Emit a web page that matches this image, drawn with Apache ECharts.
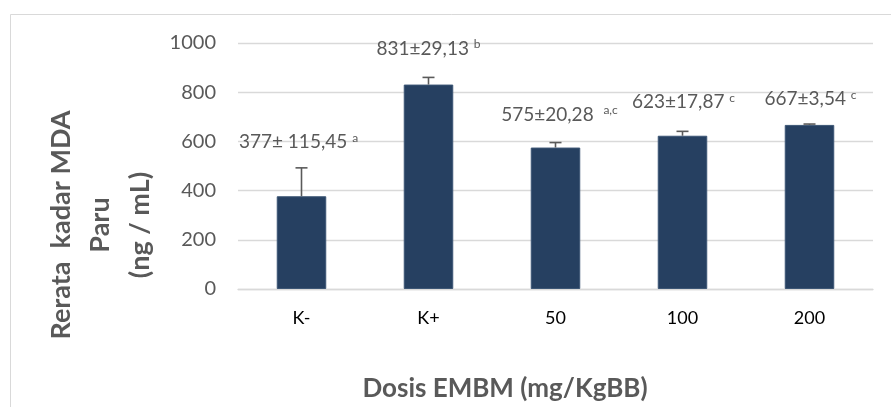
<!DOCTYPE html>
<html>
<head>
<meta charset="utf-8">
<script src="https://cdn.jsdelivr.net/npm/echarts@6/dist/echarts.min.js"></script>
<style>
  html, body { margin: 0; padding: 0; background: #fff; }
  #chart { width: 891px; height: 407px; }
</style>
</head>
<body>
<div id="chart"></div>
<script>
// data
var categories = ['K-', 'K+', '50', '100', '200'];
var meanValues = [377, 831, 575, 623, 667];
var sdValues = [115.45, 29.13, 20.28, 17.87, 3.54];
var sdLabels = [' 115,45', '29,13', '20,28', '17,87', '3,54'];
var letters = ['a', 'b', 'a,c', 'c', 'c'];
var letterGap = [' ', ' ', '  ', ' ', ' '];

// label nudges (style only)
var labelOffset = [[-3, -44], [0, -26], [4, -23], [1, -24], [1, -16]];

var font = 'Lato, "Liberation Sans", sans-serif';
var grey = '#595959';

var barData = meanValues.map(function (v, i) {
    return {
        value: v,
        label: {
            offset: labelOffset[i],
            formatter: '{v|' + v + '±' + sdLabels[i] + '}{v|' + letterGap[i] + '}{s|' + letters[i] + '}'
        }
    };
});

var errData = meanValues.map(function (v, i) {
    return [i, v, sdValues[i]];
});

function yTitle(txt, x) {
    return {
        type: 'text',
        x: x,
        y: 225,
        rotation: Math.PI / 2,
        style: {
            text: txt,
            fill: grey,
            font: 'bold 27px ' + font,
            align: 'center',
            verticalAlign: 'middle'
        }
    };
}

var myChart = echarts.init(document.getElementById('chart'), null, {renderer: 'canvas'});

var option = {
    animation: false,
    backgroundColor: '#fff',
    grid: {
        left: 238,
        right: 18,
        top: 43,
        bottom: 118
    },
    xAxis: {
        type: 'category',
        data: categories,
        axisTick: {show: false},
        axisLine: {lineStyle: {color: '#d9d9d9', width: 1.3}},
        axisLabel: {
            color: '#000',
            fontFamily: font,
            fontSize: 18,
            margin: 20
        }
    },
    yAxis: {
        type: 'value',
        min: 0,
        max: 1000,
        interval: 200,
        axisLine: {show: false},
        axisTick: {show: false},
        splitLine: {lineStyle: {color: '#d9d9d9', width: 1.3}},
        axisLabel: {
            color: grey,
            fontFamily: font,
            fontSize: 20,
            margin: 22,
            formatter: function (v) { return String(v); }
        }
    },
    graphic: [
        {
            type: 'rect',
            shape: {x: 10.5, y: 14.5, width: 1000, height: 600},
            style: {fill: 'none', stroke: '#d9d9d9', lineWidth: 1},
            silent: true
        },
        yTitle('Rerata  kadar MDA', 61),
        yTitle('Paru', 100),
        yTitle('(ng / mL)', 140),
        {
            type: 'text',
            x: 505,
            y: 389,
            style: {
                text: 'Dosis EMBM (mg/KgBB)',
                fill: grey,
                font: 'bold 26px ' + font,
                align: 'center',
                verticalAlign: 'middle'
            }
        }
    ],
    series: [
        {
            type: 'bar',
            data: barData,
            barWidth: '39%',
            itemStyle: {color: '#264061', borderColor: '#3c5675', borderWidth: 1},
            label: {
                show: true,
                position: 'top',
                distance: 0,
                rich: {
                    v: {fontFamily: font, fontSize: 19, color: grey, lineHeight: 20},
                    s: {fontFamily: font, fontSize: 12, color: grey, verticalAlign: 'top', lineHeight: 12, padding: [0, 0, 8, 0]}
                }
            },
            z: 2
        },
        {
            type: 'custom',
            data: errData,
            z: 3,
            renderItem: function (params, api) {
                var i = api.value(0);
                var v = api.value(1);
                var e = api.value(2);
                var p0 = api.coord([i, v]);
                var p1 = api.coord([i, v + e]);
                var half = 6;
                var st = {stroke: '#5a5a5a', lineWidth: 1.6};
                return {
                    type: 'group',
                    children: [
                        {type: 'line', shape: {x1: p0[0], y1: p0[1], x2: p1[0], y2: p1[1]}, style: st},
                        {type: 'line', shape: {x1: p1[0] - half, y1: p1[1], x2: p1[0] + half, y2: p1[1]}, style: st}
                    ]
                };
            }
        }
    ]
};

myChart.setOption(option);
</script>
</body>
</html>
